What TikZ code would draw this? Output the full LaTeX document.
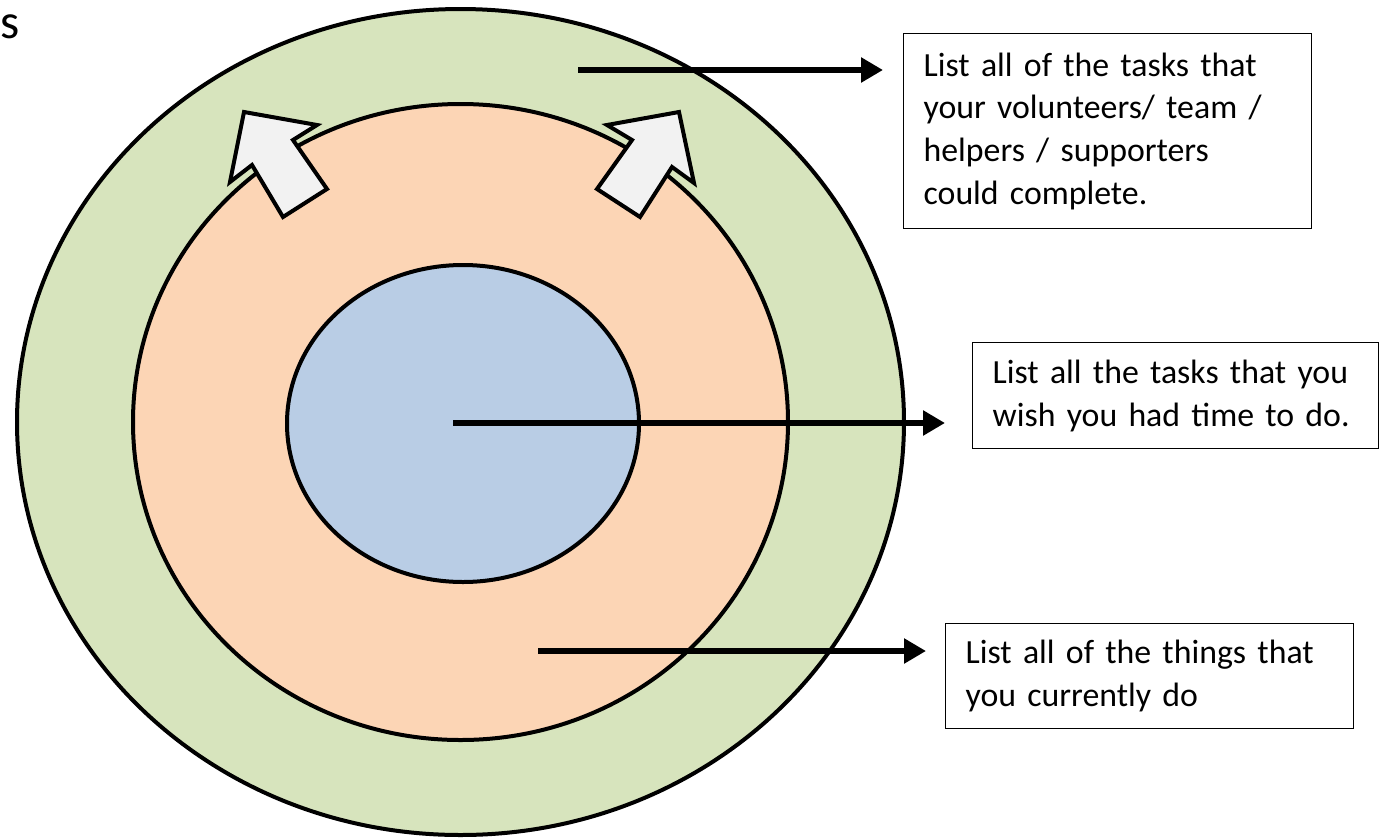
\documentclass[tikz,border=0pt]{standalone}
\usepackage{fontspec}
\setmainfont{Carlito}
\usetikzlibrary{shapes.geometric,arrows.meta}
\definecolor{ringgreen}{RGB}{215,228,189}
\definecolor{ringorange}{RGB}{252,213,181}
\definecolor{ringblue}{RGB}{185,205,229}
\definecolor{blockfill}{RGB}{242,242,242}
\tikzset{
  ring/.style={ellipse, draw=black, line width=4pt, inner sep=0pt},
  blockarrow/.style={draw=black, fill=blockfill, line width=4pt, line join=miter},
  pointer/.style={line width=6pt, -{Triangle[length=22pt,width=24pt]}},
  labelbox/.style={draw=black, line width=1.3pt, anchor=north west, align=left,
    inner xsep=20pt, inner ysep=0pt, font=\fontsize{33.8}{42.7}\selectfont},
}
\begin{document}
\begin{tikzpicture}[x=1pt,y=-1pt]
\useasboundingbox (0,0) rectangle (1379,839);
\fill[white] (0,0) rectangle (1379,839);

\node[anchor=base west, inner sep=0pt, font=\fontsize{49}{58}\selectfont] (corner) at (0,38) {s};

\node[ring, fill=ringgreen, minimum width=887pt, minimum height=826pt] (outer) at (460.5,422) {};
\node[ring, fill=ringorange, minimum width=655pt, minimum height=636pt] (middle) at (460.5,422) {};
\node[ring, fill=ringblue, minimum width=352pt, minimum height=317pt] (inner) at (463,423.5) {};

% block arrows
\draw[blockarrow] (244,112) -- (317,125) -- (293,140) -- (327,189) -- (283,217) -- (252,165) -- (230,182) -- cycle;
\draw[blockarrow] (679,112) -- (694,183) -- (672,167) -- (640,217) -- (597,189) -- (632,140) -- (607,125) -- cycle;

% text boxes
\node[labelbox, text width=368pt, minimum height=195pt] (box1) at (903,33)
  {List all of the tasks that\\your volunteers/ team /\\helpers / supporters\\could complete.};
\node[labelbox, text width=366pt, minimum height=106pt] (box2) at (972,342)
  {List all the tasks that you\\wish you had time to do.};
\node[labelbox, text width=368pt, minimum height=105pt] (box3) at (945,623)
  {List all of the things that\\you currently do};

% pointer arrows
\coordinate (s1) at (578,70);
\coordinate (e1) at (883,70);
\coordinate (s2) at (453,423);
\coordinate (e2) at (945,423);
\coordinate (s3) at (538,651);
\coordinate (e3) at (926,651);
\draw[pointer] (s1) -- (e1);
\draw[pointer] (s2) -- (e2);
\draw[pointer] (s3) -- (e3);
\end{tikzpicture}
\end{document}
